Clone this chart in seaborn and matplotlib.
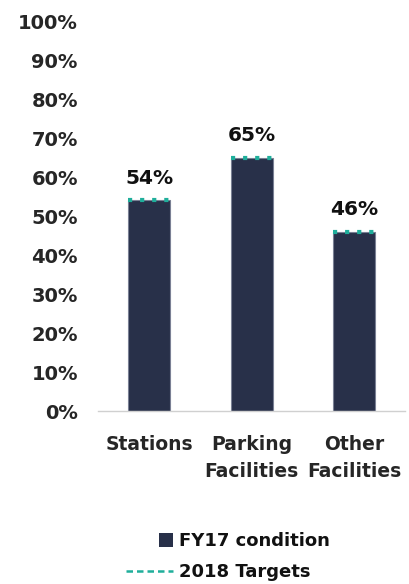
import pandas as pd
import matplotlib.pyplot as plt
import seaborn as sns
from matplotlib.lines import Line2D
from matplotlib.patches import Patch, Rectangle
from matplotlib.legend_handler import HandlerPatch

# --- datos ---
categorias = ["Stations", "Parking\nFacilities", "Other\nFacilities"]
condicion_fy17 = [54, 65, 46]
metas_2018 = [54, 65, 46]

sns.set_theme(style="white")
plt.rcParams['font.family'] = ['DejaVu Sans']
plt.rcParams['text.color'] = '#111111'

NAVY = '#283049'
TEAL = '#1fae9b'


class HandlerCuadro(HandlerPatch):
    """Cuadro pequeño alineado a la derecha del espacio del handle (estilo Excel)."""
    def create_artists(self, legend, orig_handle, xdescent, ydescent, width, height, fontsize, trans):
        lado = height * 1.1
        r = Rectangle((width - xdescent - lado, -ydescent + (height - lado) / 2), lado, lado,
                      facecolor=orig_handle.get_facecolor(), edgecolor='none', transform=trans)
        return [r]


df = pd.DataFrame({'Categoria': categorias, 'FY17': condicion_fy17, 'Meta': metas_2018})

fig = plt.figure(figsize=(4.10, 5.84), dpi=100)
ax = fig.add_axes([0.239, 0.296, 0.749, 0.668])

sns.barplot(x='Categoria', y='FY17', data=df, ax=ax, color=NAVY, width=0.41,
            edgecolor='#7a8094', linewidth=0.8, saturation=1)

# lineas de meta sobre cada barra
for bar, meta in zip(ax.patches, df['Meta']):
    x0 = bar.get_x()
    x1 = x0 + bar.get_width()
    ax.plot([x0, x1], [meta, meta], color=TEAL, linewidth=3.0,
            linestyle=(0, (1.0, 1.9)), solid_capstyle='butt', zorder=5)

# etiquetas de valor
for bar, val in zip(ax.patches, df['FY17']):
    ax.text(bar.get_x() + bar.get_width() / 2, val + 3.3, f"{val}%",
            ha='center', va='bottom', fontsize=14.5, fontweight='semibold')

ax.set_ylim(0, 100)
ax.set_xlim(-0.5, 2.5)
ax.set_yticks(range(0, 101, 10))
ax.set_yticklabels([f"{v}%" for v in range(0, 101, 10)])
ax.set_xlabel("")
ax.set_ylabel("")
ax.tick_params(axis='y', length=0, pad=14.5, labelsize=14)
ax.tick_params(axis='x', length=0, pad=17.5, labelsize=13.5)
for lbl in ax.get_yticklabels() + ax.get_xticklabels():
    lbl.set_fontweight('semibold')
for lbl in ax.get_xticklabels():
    lbl.set_linespacing(1.5)

for s in ['top', 'right', 'left']:
    ax.spines[s].set_visible(False)
ax.spines['bottom'].set_color('#d0d0d0')
ax.spines['bottom'].set_linewidth(1)

handles = [
    Patch(facecolor=NAVY, edgecolor=NAVY, label='FY17 condition'),
    Line2D([0], [0], color=TEAL, linestyle=(0, (2.6, 1.6)), linewidth=1.8, label='2018 Targets'),
]
leg = fig.legend(handles=handles, loc='center', bbox_to_anchor=(0.556, 0.047), frameon=False,
                 prop={'size': 13, 'weight': 'semibold'}, handlelength=2.6,
                 handletextpad=0.3, labelspacing=0.7,
                 handler_map={Patch: HandlerCuadro()})

fig.savefig("out.png", dpi=100, facecolor='white')
